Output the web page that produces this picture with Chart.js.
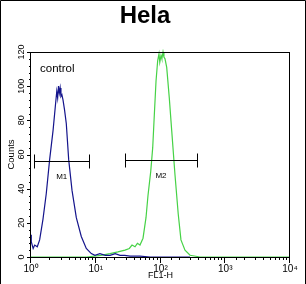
<!DOCTYPE html>
<html>
<head>
<meta charset="utf-8">
<script src="https://cdn.jsdelivr.net/npm/chart.js@4/dist/chart.umd.min.js"></script>
<style>
  html, body { margin:0; padding:0; background:#fff; }
  #wrap { width:306px; height:284px; }
</style>
</head>
<body>
<div id="wrap"><canvas id="c" width="306" height="284"></canvas></div>
<script>
// control (blue) histogram, FL1-H channel value vs counts
const controlFl1 = [1.0, 1.01, 1.08, 1.14, 1.25, 1.36, 1.53, 1.72, 1.94, 2.19, 2.40, 2.50, 2.58, 2.66, 2.74, 2.82, 2.90, 3.0, 3.12, 3.30, 3.51, 3.82, 4.30, 5.01, 5.98, 7.14, 8.54, 9.7, 11.6, 14, 16.6, 20, 23.7, 28, 33.8, 48, 69, 120, 286];
const controlCounts = [13, 9, 5, 7, 6, 10, 22, 37, 57, 74, 90, 97, 93, 100, 96, 99, 94, 95, 92, 86, 78, 57, 39, 23, 12, 5, 2, 1, 2, 1, 1, 2, 1, 1, 0.5, 0.5, 0, 0, 0];
// Hela sample (green) histogram
const sampleFl1 = [1, 7.3, 12, 16.6, 22, 28.3, 33, 36.3, 40.4, 44, 48.2, 53.7, 59.7, 64.1, 70.6, 75.8, 80.2, 85.3, 90.5, 94.8, 97.5, 101.8, 105, 109.4, 113, 117.4, 124.7, 136.8, 149, 167.5, 188, 207, 239, 286, 407, 10000];
const sampleCounts = [0, 0, 1, 2, 3, 4, 5, 7, 6, 8, 7, 11, 23, 36, 50, 64, 83, 103, 115, 119, 114, 118, 116, 120, 117, 116, 111, 93, 74, 48, 25, 10, 4, 1, 0, 0];
// gate markers
const markerNames = ['M1', 'M2'];
const markerFrom = [1.12, 28.6];
const markerTo = [7.95, 362];
const markerLevel = [56, 57];
const xDecades = [1, 10, 100, 1000, 10000];
const supDigits = ['\u2070', '\u00b9', '\u00b2', '\u00b3', '\u2074'];

const FONT = "'Liberation Sans', Arial, sans-serif";

const pts = (xs, ys) => xs.map((x, i) => ({ x: x, y: ys[i] }));

const decor = {
  id: 'decor',
  afterDatasetsDraw(chart) {
    const ctx = chart.ctx, a = chart.chartArea;
    const xs = chart.scales.x, ys = chart.scales.y;
    ctx.save();
    ctx.strokeStyle = '#000';
    ctx.lineWidth = 1;
    // image frame (top, left, right)
    ctx.beginPath();
    ctx.moveTo(0.5, 284); ctx.lineTo(0.5, 0.5); ctx.lineTo(305.5, 0.5); ctx.lineTo(305.5, 284);
    ctx.stroke();
    // plot box
    ctx.strokeRect(Math.round(a.left) - 0.5, Math.round(a.top) + 0.5, Math.round(a.right - a.left), Math.round(a.bottom - a.top));
    // x tick marks
    ctx.beginPath();
    xs.ticks.forEach(t => {
      const px = Math.round(xs.getPixelForValue(t.value)) - 0.5;
      const major = Math.abs(Math.log10(t.value) - Math.round(Math.log10(t.value))) < 1e-9;
      ctx.moveTo(px, a.bottom); ctx.lineTo(px, a.bottom + (major ? 6 : 3));
    });
    // y tick marks
    ys.ticks.forEach(t => {
      const py = Math.round(ys.getPixelForValue(t.value)) + 0.5;
      const major = t.value % 20 === 0;
      ctx.moveTo(a.left - (major ? 4 : 2), py); ctx.lineTo(a.left, py);
    });
    ctx.stroke();
    // markers
    ctx.font = '8px ' + FONT;
    ctx.fillStyle = '#000';
    ctx.textAlign = 'center';
    ctx.textBaseline = 'middle';
    markerNames.forEach((name, i) => {
      const x1 = Math.round(xs.getPixelForValue(markerFrom[i])) + 0.5;
      const x2 = Math.round(xs.getPixelForValue(markerTo[i])) + 0.5;
      const y = Math.round(ys.getPixelForValue(markerLevel[i])) + 0.5;
      ctx.beginPath();
      ctx.moveTo(x1, y); ctx.lineTo(x2, y);
      ctx.moveTo(x1, y - 7); ctx.lineTo(x1, y + 7);
      ctx.moveTo(x2, y - 7); ctx.lineTo(x2, y + 7);
      ctx.stroke();
      const mid = xs.getPixelForValue(Math.sqrt(markerFrom[i] * markerTo[i]));
      ctx.fillText(name, mid, y + 15);
    });
    // legend text
    ctx.font = '11.5px ' + FONT;
    ctx.textAlign = 'left';
    ctx.fillText('control', xs.getPixelForValue(1.38), ys.getPixelForValue(110));
    ctx.restore();
  }
};

new Chart(document.getElementById('c'), {
  type: 'line',
  data: {
    datasets: [
      { label: 'control', data: pts(controlFl1, controlCounts), borderColor: '#14148c', borderWidth: 1.2, pointRadius: 0, tension: 0, clip: false },
      { label: 'Hela', data: pts(sampleFl1, sampleCounts), borderColor: '#46d246', borderWidth: 1.2, pointRadius: 0, tension: 0, clip: false }
    ]
  },
  options: {
    responsive: false,
    animation: false,
    layout: { padding: { left: 0, right: 16, top: 0, bottom: 0 } },
    plugins: {
      legend: { display: false },
      tooltip: { enabled: false },
      title: { display: true, text: 'Hela', color: '#000', font: { family: FONT, size: 24, weight: 'bold', lineHeight: 1.2 }, padding: { top: 2, bottom: 21.2 } }
    },
    scales: {
      x: {
        type: 'logarithmic', min: 1, max: 10000,
        grid: { display: false, drawTicks: false },
        border: { display: false },
        ticks: {
          autoSkip: false, maxRotation: 0, minRotation: 0, padding: 6, color: '#000',
          font: { family: FONT, size: 10 },
          callback: v => { const i = xDecades.indexOf(v); return i >= 0 ? '10' + supDigits[i] : ''; }
        },
        title: { display: true, text: 'FL1-H', color: '#000', font: { family: FONT, size: 9, lineHeight: 1.2 }, padding: { top: 4, bottom: 3 } },
        afterFit: s => { s.height = 27; }
      },
      y: {
        min: 0, max: 120,
        grid: { display: false, drawTicks: false },
        border: { display: false },
        ticks: {
          stepSize: 4, autoSkip: false, minRotation: 90, maxRotation: 90, crossAlign: 'center', padding: 2, color: '#000',
          font: { family: FONT, size: 9 },
          callback: v => v % 20 === 0 ? String(v) : ''
        },
        title: { display: true, text: 'Counts', color: '#000', font: { family: FONT, size: 9.5, lineHeight: 1.2 }, padding: { top: 6, bottom: 4 } },
        afterFit: s => { s.width = 31; }
      }
    }
  },
  plugins: [decor]
});
</script>
</body>
</html>
